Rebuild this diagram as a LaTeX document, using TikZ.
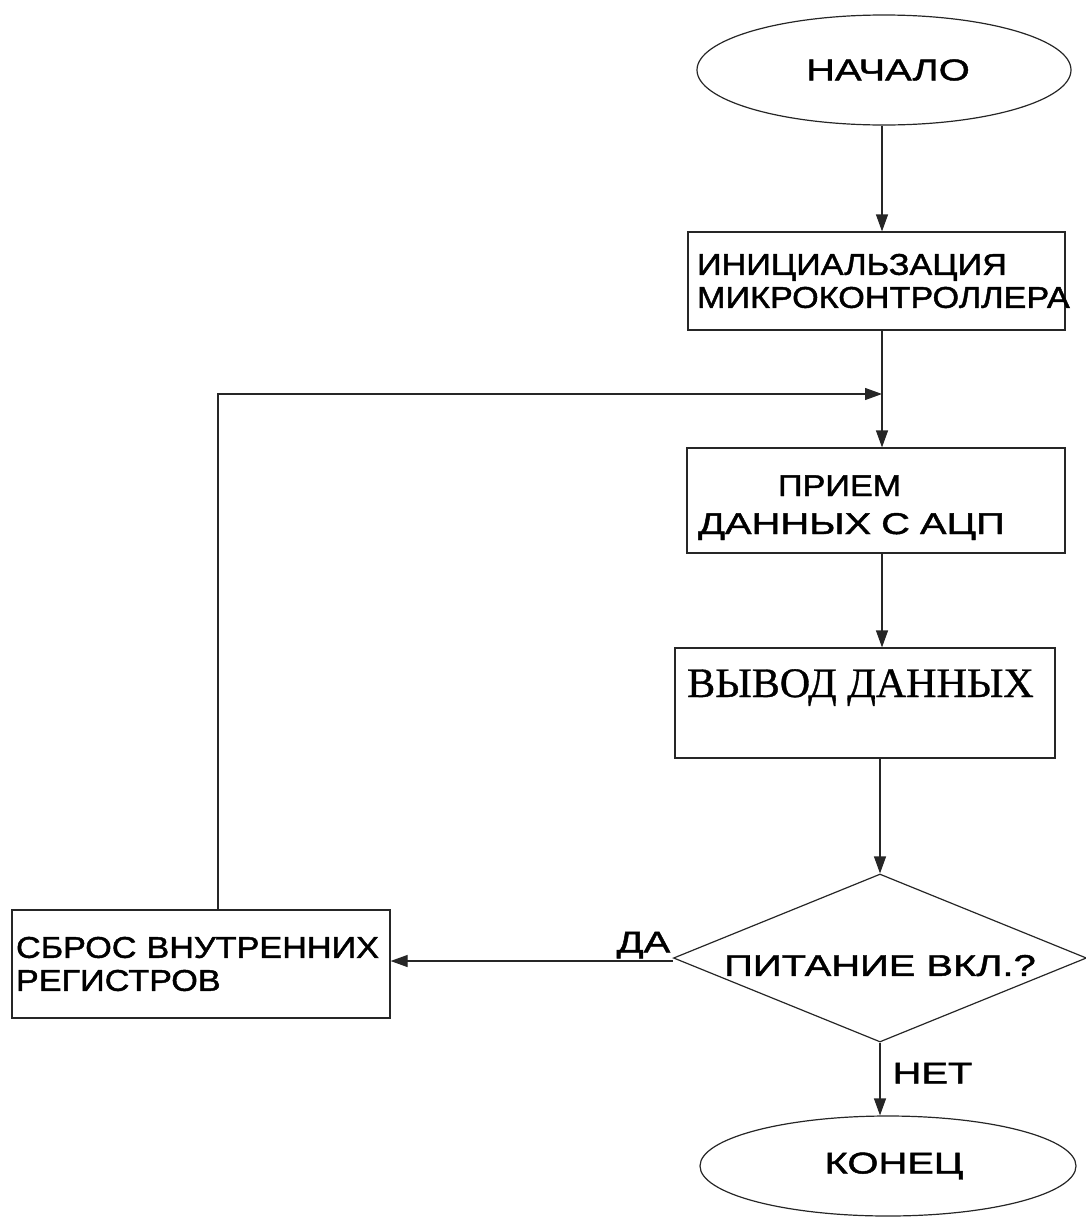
\documentclass[tikz,border=0pt]{standalone}
\usepackage{fontspec}
\setmainfont{Liberation Sans}[FakeBold=1.5]
\newfontfamily\widesans{Liberation Sans}[FakeStretch=1.33,FakeBold=1.5]
\newfontfamily\midsans{Liberation Sans}[FakeStretch=1.14,FakeBold=1.5]
\newfontfamily\serifcyr{Liberation Serif}[FakeBold=0.8]
\usetikzlibrary{shapes.geometric,arrows.meta}

\begin{document}
\begin{tikzpicture}[x=1pt,y=-1pt,
  line/.style={draw=black!85,line width=1.2pt},
  arr/.style={line,-{Triangle[length=17pt,width=12pt]}},
  lbl/.style={font=\widesans\fontsize{30}{33}\selectfont},
  lblm/.style={font=\midsans\fontsize{30}{33}\selectfont},
  term/.style={ellipse,line,inner sep=0pt,lbl},
  box/.style={rectangle,line,inner sep=0pt,lblm},
  cond/.style={diamond,line,inner sep=0pt,aspect=2.46,lbl},
]
\useasboundingbox (0,0) rectangle (1086,1221);

% terminals
\node[term, minimum width=374pt, minimum height=110pt] (start) at (884,70) {\hspace*{8pt}НАЧАЛО};
\node[term, minimum width=376pt, minimum height=100pt] (stop) at (888,1166) {\hspace*{12pt}КОНЕЦ};

% process blocks
\node[box, minimum width=377pt, minimum height=98pt, text width=359pt, align=left]
  (init) at (876.5,281) {ИНИЦИАЛЬЗАЦИЯ\\МИКРОКОНТРОЛЛЕРА};
\node[box, minimum width=378pt, minimum height=105pt, text width=356pt, align=left,
  font=\fontsize{30}{36}\selectfont]
  (recv) at (876,500.5)
  {\rule{0pt}{35pt}\hspace*{80pt}{\midsans ПРИЕМ}\\[2pt]{\widesans ДАННЫХ С АЦП}};
\node[box, minimum width=380pt, minimum height=110pt] (out) at (865,703) {};
\node[anchor=base west, inner sep=0pt, font=\serifcyr\fontsize{42}{46}\selectfont]
  (outtext) at (687,697) {ВЫВОД ДАННЫХ};
\node[box, minimum width=378pt, minimum height=108pt, text width=370pt, align=left]
  (reset) at (201,964) {СБРОС ВНУТРЕННИХ\\РЕГИСТРОВ};

% decision
\node[cond, minimum width=413pt, minimum height=168pt] (dec) at (880,958)
  {\rule{0pt}{36pt}ПИТАНИЕ ВКЛ.?};

% junction where the loop rejoins the main line
\coordinate (merge) at (882,394);

% main flow
\draw[arr] (start.south -| merge) -- (init.north -| merge);
\draw[line] (init.south -| merge) -- (merge);
\draw[arr] (merge) -- (recv.north -| merge);
\draw[arr] (recv.south -| merge) -- (out.north -| merge);
\draw[arr] (out.south -| dec.north) -- (dec.north);
\draw[arr] (dec.south) -- (dec.south |- stop.north)
  node[pos=0.42, anchor=west, xshift=12pt, lbl, inner sep=0pt] (no) {НЕТ};
\draw[arr] ([yshift=-3pt]dec.west) -- ([yshift=-3pt]dec.west -| reset.east)
  node[pos=0, anchor=south east, lbl, inner sep=2pt] (yes) {ДА};

% loop back
\draw[arr] ([xshift=17pt]reset.north) |- (merge);
\end{tikzpicture}
\end{document}
